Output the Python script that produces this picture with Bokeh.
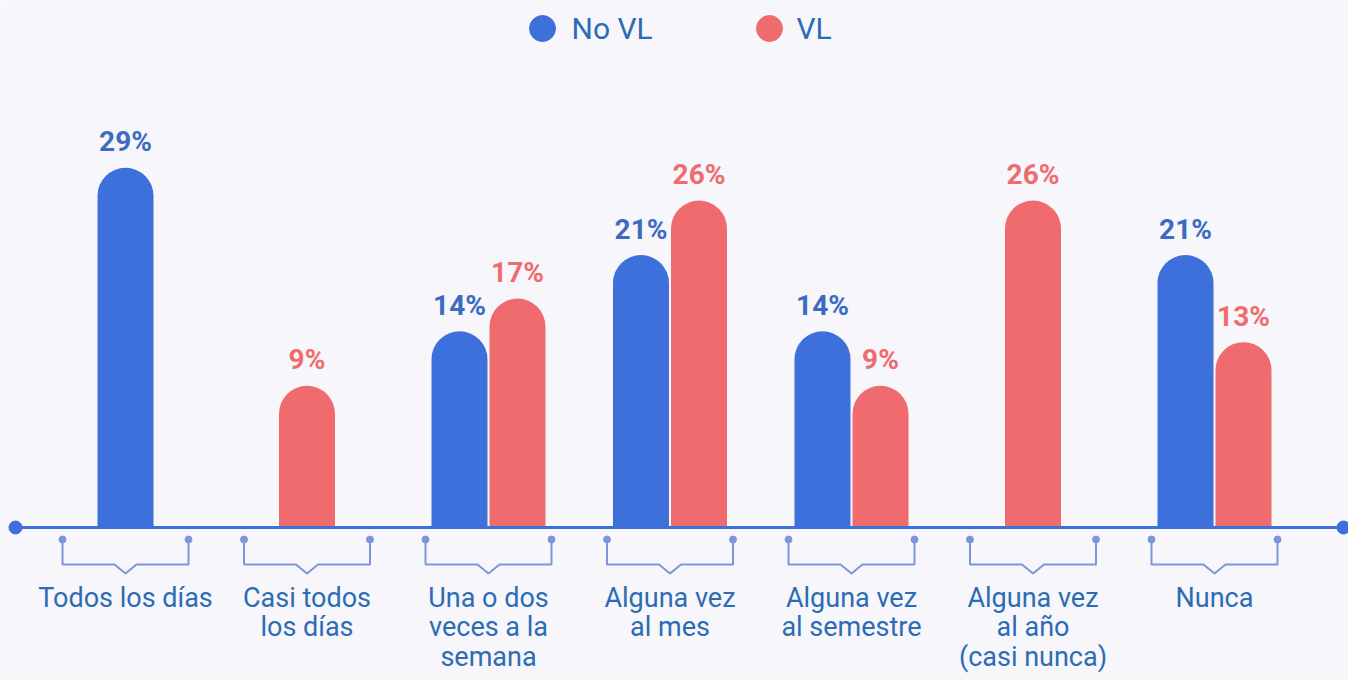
from bokeh.plotting import figure
from bokeh.models import ColumnDataSource, Range1d
from bokeh.embed import file_html
from bokeh.resources import INLINE
from bokeh.core.properties import value

# ---- data ----
categories = [
    "Todos los días",
    "Casi todos\nlos días",
    "Una o dos\nveces a la\nsemana",
    "Alguna vez\nal mes",
    "Alguna vez\nal semestre",
    "Alguna vez\nal año\n(casi nunca)",
    "Nunca",
]
no_vl = [29, None, 14, 21, 14, None, 21]
vl = [None, 9, 17, 26, 9, 26, 13]
series_names = ["No VL", "VL"]

# ---- style ----
BG = "#f6f6fb"
BLUE = "#3d70db"
RED = "#f06b6e"
BLUE_TXT = "#3b6cc0"
CAT_TXT = "#2c6cb5"
BRACKET = "#7b97d9"
FONT = "Roboto"

W, H = 1348, 680
PXX = 181.5    # pixels per category step
PXY = 10.9     # pixels per percentage point
BASE = -4.0    # value at the baseline line
AXIS_PX = 527  # distance of baseline from top of frame (px)
X0 = -125 / PXX
X1 = X0 + W / PXX
Y1 = BASE + AXIS_PX / PXY
Y0 = Y1 - H / PXY

p = figure(width=W, height=H, x_range=Range1d(X0, X1), y_range=Range1d(Y0, Y1),
           output_backend="svg", toolbar_location=None,
           x_axis_type=None, y_axis_type=None, min_border=0,
           outline_line_color=None, background_fill_color=BG, border_fill_color=BG)
p.grid.visible = False

off = 29 / PXX
bw = 56 / PXX


def build(vals, other_vals, sign):
    xs, tops, labels = [], [], []
    for i, v in enumerate(vals):
        if v is None:
            continue
        dx = sign * off if other_vals[i] is not None else 0
        xs.append(i + dx)
        tops.append(v)
        labels.append(f"{v}%")
    return ColumnDataSource(dict(x=xs, top=tops, ly=[t + 26 / PXY for t in tops], label=labels))


src_a = build(no_vl, vl, -1)
src_b = build(vl, no_vl, 1)

for src, col, tcol in ((src_a, BLUE, BLUE_TXT), (src_b, RED, RED)):
    p.vbar(x="x", top="top", bottom=BASE, width=bw, source=src, fill_color=col,
           line_color=None, border_radius=(28, 28, 0, 0))
    p.text(x="x", y="ly", text="label", source=src, text_align="center",
           text_baseline="middle", text_font=value(FONT), text_font_style="bold",
           text_font_size="28px", text_color=tcol)

# baseline axis
xl = X0 + 15 / PXX
xr = X0 + 1343 / PXX
p.segment(x0=xl, y0=BASE, x1=xr, y1=BASE, line_color=BLUE, line_width=3)
p.scatter(x=[xl, xr], y=[BASE, BASE], size=13, color=BLUE)

# brackets
hw = 63 / PXX
nw = 11 / PXX
y_dot = BASE - 12 / PXY
y_h = BASE - 37 / PXY
y_v = BASE - 46 / PXY
bxs, bys, dx, dy = [], [], [], []
for i in range(len(categories)):
    c = i
    bxs.append([c - hw, c - hw, c - nw, c, c + nw, c + hw, c + hw])
    bys.append([y_dot, y_h, y_h, y_v, y_h, y_h, y_dot])
    dx += [c - hw, c + hw]
    dy += [y_dot, y_dot]
p.multi_line(bxs, bys, line_color=BRACKET, line_width=2)
p.scatter(x=dx, y=dy, size=7, color=BRACKET)

# category labels
p.text(x=list(range(len(categories))), y=[BASE - 54 / PXY] * len(categories), text=categories,
       text_align="center", text_baseline="top", text_font=value(FONT),
       text_font_size="27px", text_color=CAT_TXT, text_line_height=0.93)

# legend
ly = BASE + (AXIS_PX - 28) / PXY
p.scatter(x=[X0 + 542 / PXX, X0 + 769 / PXX], y=[ly, ly], size=26, color=[BLUE, RED])
p.text(x=[X0 + 571 / PXX, X0 + 796 / PXX], y=[ly, ly], text=series_names,
       text_align="left", text_baseline="middle", text_font=value(FONT),
       text_font_size="30px", text_color=CAT_TXT)

open("out.html", "w").write(file_html(p, INLINE))
